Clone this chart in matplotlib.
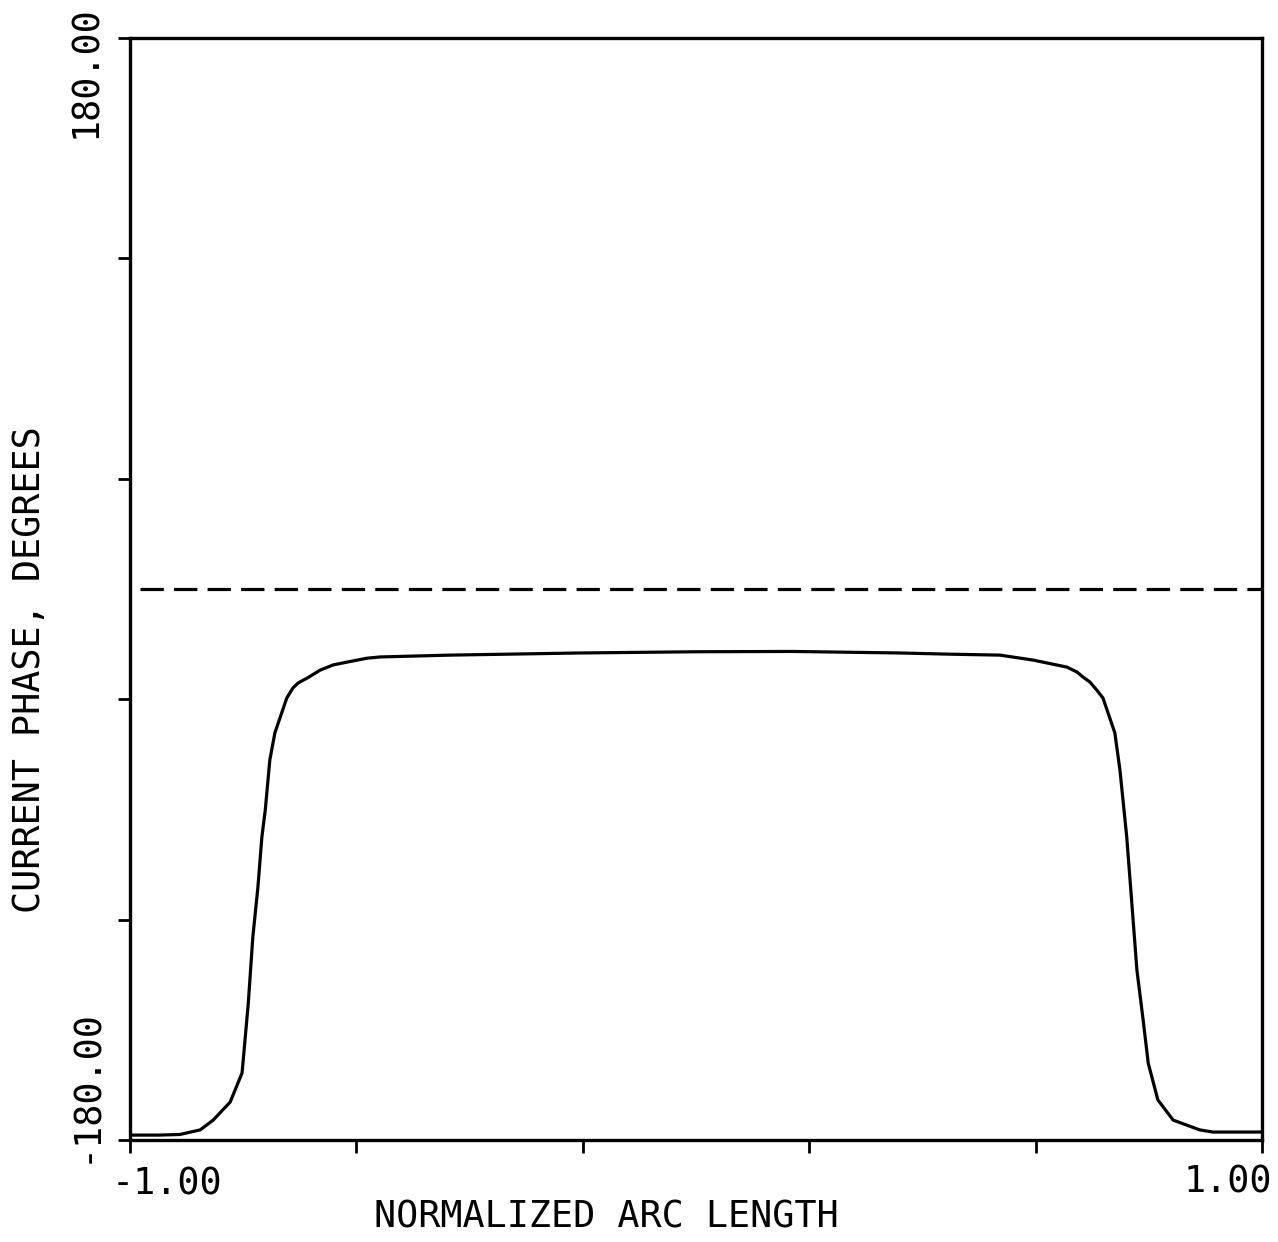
import numpy as np
import matplotlib
matplotlib.use('Agg')
import matplotlib.pyplot as plt
import matplotlib as mpl

mpl.rcParams['font.family'] = 'DejaVu Sans Mono'

# curve
arc_len = [-0.995, -0.95, -0.912, -0.876, -0.853, -0.823, -0.802, -0.791,
           -0.783, -0.774, -0.767, -0.761, -0.753, -0.744, -0.723, -0.712,
           -0.703, -0.687, -0.664, -0.641, -0.617, -0.581, -0.558, -0.435,
           -0.205, 0.0, 0.17, 0.36, 0.45, 0.537, 0.595, 0.655, 0.673, 0.684,
           0.696, 0.708, 0.719, 0.740, 0.749, 0.761, 0.770, 0.779, 0.790,
           0.799, 0.816, 0.843, 0.890, 0.913, 1.0]
phase_deg = [-178.4, -178.4, -178.2, -176.7, -173.5, -167.6, -158.1, -135.3,
             -113.7, -97.4, -81.0, -72.2, -55.9, -47.0, -35.6, -32.3,
             -30.7, -29.1, -26.5, -24.8, -23.9, -22.6, -22.2, -21.6,
             -20.9, -20.5, -20.4, -20.9, -21.3, -21.6, -23.2, -25.5, -27.1, -28.8,
             -30.4, -33.0, -35.6, -47.0, -59.1, -81.0, -102.6, -124.5, -140.8,
             -154.9, -166.9, -173.5, -176.7, -177.4, -177.4]

# dashed reference line
ref_x = [-0.982, 1.0]
ref_y = [0.0, 0.0]

x_ticks = [-1.0, -0.6, -0.2, 0.2, 0.6, 1.0]
y_ticks = [-180.0, -108.0, -36.0, 36.0, 108.0, 180.0]
x_tick_labels = ['-1.00', '1.00']
y_tick_labels = ['-180.00', '180.00']

W, H = 1278, 1242
fig = plt.figure(figsize=(W / 100, H / 100), dpi=100)
ax = fig.add_axes([130 / W, 1 - 1140 / H, 1132 / W, 1102 / H])

ax.plot(arc_len, phase_deg, color='black', lw=2.3)
ax.plot(ref_x, ref_y, color='black', lw=2.3, dashes=(7.3, 3.2))

ax.set_xlim(-1, 1)
ax.set_ylim(-180, 180)
ax.set_xticks(x_ticks)
ax.set_yticks(y_ticks)
ax.set_xticklabels([])
ax.set_yticklabels([])
ax.tick_params(direction='out', length=9, width=2, color='black')
for s in ax.spines.values():
    s.set_linewidth(2.4)
    s.set_color('black')


def px(x, y):
    return x / W, 1 - y / H


fs = 26.5
# tick labels placed by hand (plotter style)
fig.text(*px(167, 1184), x_tick_labels[0], fontsize=fs, ha='center', va='center')
fig.text(*px(1228, 1182), x_tick_labels[1], fontsize=fs, ha='center', va='center')
fig.text(*px(86, 1086), y_tick_labels[0], fontsize=fs, ha='center', va='center', rotation=90)
fig.text(*px(86, 72), y_tick_labels[1], fontsize=fs, ha='center', va='center', rotation=90)

fig.text(*px(606, 1217), 'NORMALIZED ARC LENGTH', fontsize=fs, ha='center', va='center')
fig.text(*px(30, 670), 'CURRENT PHASE, DEGREES', fontsize=fs, ha='center', va='center', rotation=90)

fig.savefig('out.png', dpi=100)
